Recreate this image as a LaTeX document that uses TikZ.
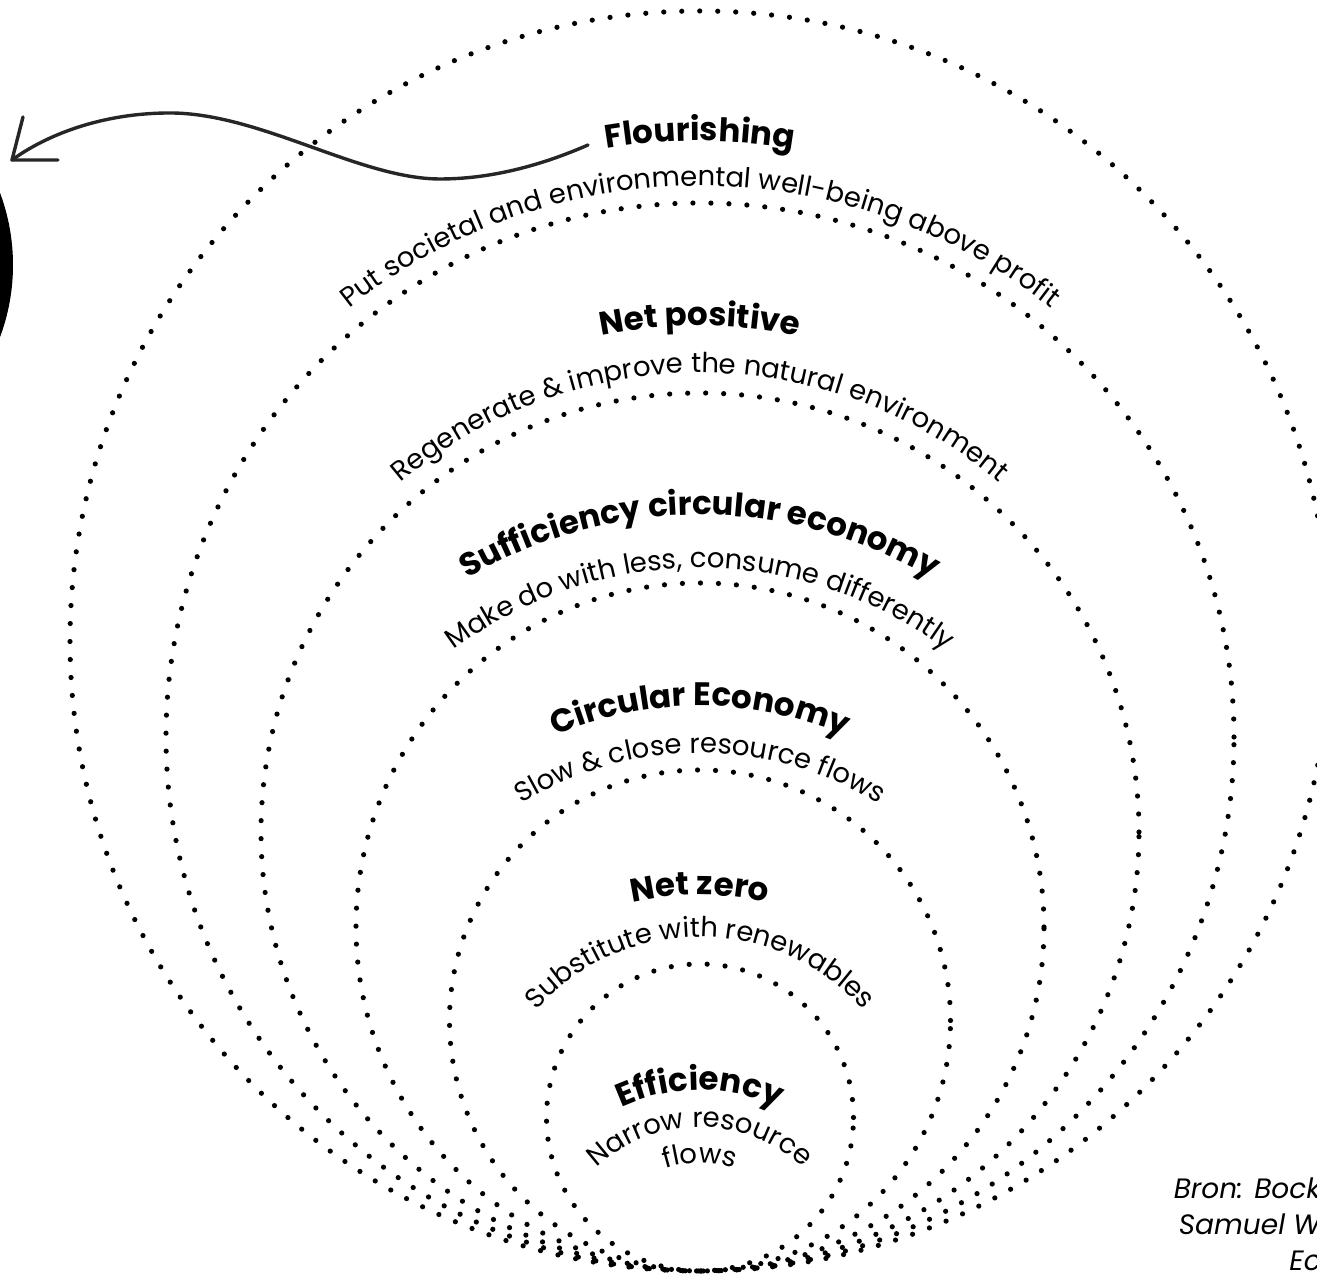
\documentclass[tikz,border=0pt]{standalone}
\usepackage{fontspec}
\setmainfont{Poppins}
\usetikzlibrary{decorations.text}

\begin{document}
\begin{tikzpicture}[x=1pt,y=1pt,
  dotring/.style={line width=5.2pt,line cap=round,dash pattern=on 0pt off 18pt},
  ringtitle/.style={decorate,decoration={text along path,text align=center,
      text={|\bfseries\fontsize{32.5}{38}\selectfont|#1}}},
  ringtext/.style={decorate,decoration={text along path,text align=center,
      text={|\fontsize{27.5}{32}\selectfont|#1}}},
  handline/.style={line width=3.4pt,draw=black!85,line cap=round,line join=round}]
\useasboundingbox (0,0) rectangle (1317,1276);
\clip (0,0) rectangle (1317,1276);
% the dotted rings, all touching at the bottom
\foreach \r in {153.5,250.5,344,439,534,630}
  \draw[dotring] (700,5+\r) circle[radius=\r];
% the ring titles
\path[ringtitle={Flourishing}] ([shift={(170:560)}]700,575) arc[start angle=170,end angle=10,radius=560];
\path[ringtitle={Net positive}] ([shift={(170:500)}]700,450) arc[start angle=170,end angle=10,radius=500];
\path[ringtitle={Sufficiency circular economy}] ([shift={(170:457)}]700,304) arc[start angle=170,end angle=10,radius=457];
\path[ringtitle={Circular Economy}] ([shift={(170:365)}]700,205) arc[start angle=170,end angle=10,radius=365];
\path[ringtitle={Net zero}] ([shift={(170:310)}]700,71) arc[start angle=170,end angle=10,radius=310];
\path[ringtitle={Efficiency}] ([shift={(170:187)}]700,-1) arc[start angle=170,end angle=10,radius=187];
% the ring texts
\path[ringtext={Put societal and environmental well-being above profit}] ([shift={(170:565)}]700,525) arc[start angle=170,end angle=10,radius=565];
\path[ringtext={Regenerate {\&} improve the natural environment}] ([shift={(170:462)}]700,441) arc[start angle=170,end angle=10,radius=462];
\path[ringtext={Make do with less, consume differently}] ([shift={(170:410)}]700,298) arc[start angle=170,end angle=10,radius=410];
\path[ringtext={Slow {\&} close resource flows}] ([shift={(170:338)}]700,185) arc[start angle=170,end angle=10,radius=338];
\path[ringtext={Substitute with renewables}] ([shift={(170:220)}]700,119) arc[start angle=170,end angle=10,radius=220];
\path[ringtext={Narrow resource}] ([shift={(170:150)}]700,-1) arc[start angle=170,end angle=10,radius=150];
\path[ringtext={flows}] ([shift={(170:114)}]700,-1) arc[start angle=170,end angle=10,radius=114];
% the hand drawn arrow
\coordinate (arrowstart) at (588,1131);
\coordinate (arrowlow) at (440,1097);
\coordinate (arrowhigh) at (170,1163);
\coordinate (arrowtip) at (12,1116);
\coordinate (barbup) at (23,1159);
\coordinate (barbright) at (58,1116);
\draw[handline] (arrowstart) .. controls (540,1110) and (490,1097) .. (arrowlow)
  .. controls (360,1097) and (260,1163) .. (arrowhigh)
  .. controls (100,1163) and (45,1140) .. (arrowtip);
\draw[handline] (barbup) -- (arrowtip) -- (barbright);
% the black disc at the left edge
\fill (-193,1011) circle[radius=206];
% the source
\node[anchor=north east,align=right,font=\itshape\fontsize{28}{36}\selectfont,inner sep=0pt] (source) at (1321,98) {Bron: Bock\\Samuel W\\Ec};
\end{tikzpicture}
\end{document}
